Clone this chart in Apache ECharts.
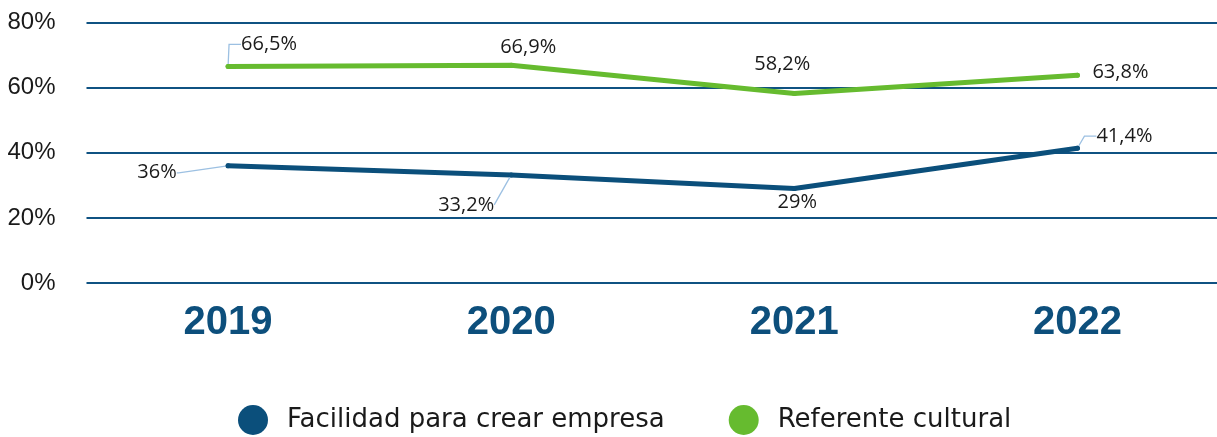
<!DOCTYPE html>
<html>
<head>
<meta charset="utf-8">
<script src="https://cdn.jsdelivr.net/npm/echarts@6/dist/echarts.min.js"></script>
<style>
  html, body { margin: 0; padding: 0; background: #ffffff; }
  #chart { width: 1217px; height: 437px; }
</style>
</head>
<body>
<div id="chart"></div>
<script>
// ---- Data ----
const categories = ['2019', '2020', '2021', '2022'];
const facilidad = [36, 33.2, 29, 41.4];
const referente = [66.5, 66.9, 58.2, 63.8];
const seriesNames = ['Facilidad para crear empresa', 'Referente cultural'];
const yTicks = { min: 0, max: 80, interval: 20 };

// ---- Styling (label offsets in px relative to the point) ----
const labelOffsets = [
  [[-71, 7], [-45, 30], [3, 14], [47, -12]],
  [[41, -22], [17, -18], [-12, -29], [43, -3]]
];
const leaderLen = [
  [2, 0, null, 12],
  [12, null, null, null]
];
const BLUE = '#0b4f7b';
const GREEN = '#66bb2f';
const GRID_COLOR = '#0f5282';
const LEADER = '#9cc0e2';

function fmt(v) { return String(v).replace('.', ',') + '%'; }

function buildData(values, sIdx) {
  return values.map((v, i) => {
    const len = leaderLen[sIdx][i];
    return {
      value: v,
      labelLine: len === null ? { show: false } : { show: true, length2: len }
    };
  });
}

const chart = echarts.init(document.getElementById('chart'), null, { renderer: 'canvas' });

const labelCommon = {
  show: true,
  position: 'inside',
  fontFamily: '"Open Sans", sans-serif',
  fontSize: 20,
  color: '#1a1a1a',
  formatter: p => fmt(p.value)
};

chart.setOption({
  animation: false,
  backgroundColor: '#ffffff',
  grid: { left: 86.5, right: -2, top: 22.5, bottom: 154, containLabel: false, outerBoundsMode: 'none' },
  legend: {
    data: seriesNames,
    left: 233,
    top: 400,
    icon: 'circle',
    itemWidth: 30,
    itemHeight: 30,
    itemGap: 64,
    textStyle: { fontFamily: '"DejaVu Sans", sans-serif', fontSize: 26, color: '#1a1a1a', padding: [0, 0, 0, 14] }
  },
  xAxis: {
    type: 'category',
    data: categories,
    boundaryGap: true,
    axisLine: { show: false },
    axisTick: { show: false },
    axisLabel: {
      margin: 20,
      fontFamily: '"Liberation Sans", Arial, sans-serif',
      fontWeight: 'bold',
      fontSize: 40,
      color: '#0d4f7c'
    },
    splitLine: { show: false }
  },
  yAxis: {
    type: 'value',
    min: yTicks.min,
    max: yTicks.max,
    interval: yTicks.interval,
    axisLine: { show: false },
    axisTick: { show: false },
    axisLabel: {
      margin: 31,
      formatter: '{value}%',
      fontFamily: '"Liberation Sans", Arial, sans-serif',
      fontSize: 24,
      color: '#1a1a1a'
    },
    splitLine: { show: true, lineStyle: { color: GRID_COLOR, width: 2 } }
  },
  series: [
    {
      name: seriesNames[0],
      type: 'line',
      data: buildData(facilidad, 0),
      symbol: 'circle',
      symbolSize: 5,
      showSymbol: true,
      color: BLUE,
      itemStyle: { color: BLUE },
      lineStyle: { color: BLUE, width: 5, cap: 'round', join: 'round' },
      label: labelCommon,
      labelLine: { show: true, smooth: false, minTurnAngle: 0, lineStyle: { color: LEADER, width: 1.3 } },
      labelLayout: p => ({ dx: labelOffsets[0][p.dataIndex][0], dy: labelOffsets[0][p.dataIndex][1] }),
      emphasis: { disabled: true },
      z: 3
    },
    {
      name: seriesNames[1],
      type: 'line',
      data: buildData(referente, 1),
      symbol: 'circle',
      symbolSize: 5,
      showSymbol: true,
      color: GREEN,
      itemStyle: { color: GREEN },
      lineStyle: { color: GREEN, width: 5, cap: 'round', join: 'round' },
      label: labelCommon,
      labelLine: { show: true, smooth: false, minTurnAngle: 0, lineStyle: { color: LEADER, width: 1.3 } },
      labelLayout: p => ({ dx: labelOffsets[1][p.dataIndex][0], dy: labelOffsets[1][p.dataIndex][1] }),
      emphasis: { disabled: true },
      z: 3
    }
  ]
});
</script>
</body>
</html>
